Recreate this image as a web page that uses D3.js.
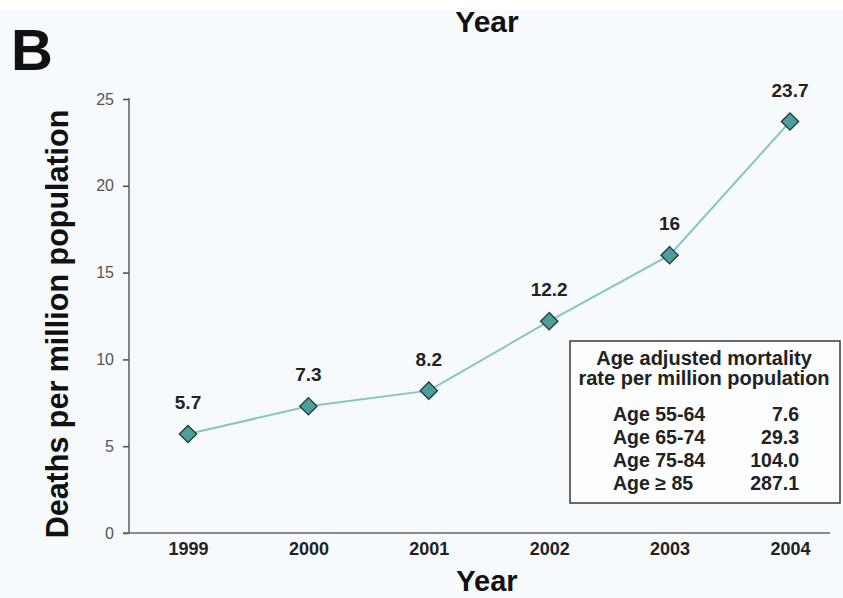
<!DOCTYPE html>
<html>
<head>
<script src="https://d3js.org/d3.v7.min.js"></script>
<style>
  body { margin: 0; background: #fff; }
  svg { display: block; font-family: "Liberation Sans", Arial, sans-serif; }
</style>
</head>
<body>
<script>
var years = ["1999", "2000", "2001", "2002", "2003", "2004"];
var deaths = [5.7, 7.3, 8.2, 12.2, 16, 23.7];
var yTicks = [0, 5, 10, 15, 20, 25];
var legendTitle = ["Age adjusted mortality", "rate per million population"];
var ageGroups = ["Age 55-64", "Age 65-74", "Age 75-84", "Age \u2265 85"];
var ageRates = ["7.6", "29.3", "104.0", "287.1"];

var width = 843, height = 598;
var svg = d3.select("body").append("svg")
    .attr("width", width)
    .attr("height", height);

// page background (light tint below a white strip)
svg.append("rect").attr("x", 0).attr("y", 11).attr("width", width).attr("height", height - 11)
    .attr("fill", "#f6fafc");

// cropped title from the panel above
svg.append("text").attr("x", 487).attr("y", 32).attr("text-anchor", "middle")
    .attr("font-size", 30).attr("font-weight", "bold").attr("fill", "#111").text("Year");
svg.append("rect").attr("x", 0).attr("y", 0).attr("width", width).attr("height", 11).attr("fill", "#fff");

// panel letter
svg.append("text").attr("x", 11).attr("y", 70)
    .attr("font-size", 58).attr("font-weight", "bold").attr("fill", "#111").text("B");

var x = d3.scalePoint().domain(years).range([188, 790]);
var y = d3.scaleLinear().domain([0, 25]).range([533, 99]);

// y axis
var yAxis = svg.append("g").attr("transform", "translate(129,0)")
    .call(d3.axisLeft(y).tickValues(yTicks).tickSize(6).tickPadding(9));
yAxis.select(".domain").attr("stroke", "#666").attr("stroke-width", 1.6).attr("d", "M0,98V533");
yAxis.selectAll(".tick line").attr("stroke", "#555").attr("stroke-width", 1.6);
yAxis.selectAll(".tick text").attr("font-size", 16).attr("fill", "#555")
    .attr("font-family", "Liberation Sans, Arial, sans-serif");

// x axis
var xAxis = svg.append("g").attr("transform", "translate(0,533)")
    .call(d3.axisBottom(x).tickSize(0).tickPadding(9));
xAxis.select(".domain").attr("stroke", "#666").attr("stroke-width", 1.6).attr("d", "M123,0H830");
xAxis.selectAll(".tick text").attr("font-size", 18).attr("font-weight", "bold").attr("fill", "#222")
    .attr("font-family", "Liberation Sans, Arial, sans-serif");

// axis titles
svg.append("text").attr("x", 487).attr("y", 591).attr("text-anchor", "middle")
    .attr("font-size", 29).attr("font-weight", "bold").attr("fill", "#111").text("Year");
svg.append("text").attr("transform", "translate(68,324) rotate(-90)").attr("text-anchor", "middle")
    .attr("font-size", 30.5).attr("font-weight", "bold").attr("fill", "#111").text("Deaths per million population");

// line
var line = d3.line()
    .x(function(d, i) { return x(years[i]); })
    .y(function(d) { return y(d); });
svg.append("path").attr("d", line(deaths))
    .attr("fill", "none").attr("stroke", "#86c6c2").attr("stroke-width", 2);

// diamond markers
svg.selectAll("path.pt").data(deaths).enter().append("path")
    .attr("class", "pt")
    .attr("d", d3.symbol().type(d3.symbolDiamond2).size(190))
    .attr("transform", function(d, i) { return "translate(" + x(years[i]) + "," + y(d) + ")"; })
    .attr("fill", "#4c9e9c").attr("stroke", "#1f3838").attr("stroke-width", 1.3);

// value labels
svg.selectAll("text.val").data(deaths).enter().append("text")
    .attr("class", "val")
    .attr("x", function(d, i) { return x(years[i]); })
    .attr("y", function(d) { return y(d) - 25; })
    .attr("text-anchor", "middle").attr("font-size", 19).attr("font-weight", "bold").attr("fill", "#222")
    .text(function(d) { return d; });

// legend box
var lg = svg.append("g");
lg.append("rect").attr("x", 570).attr("y", 341).attr("width", 270).attr("height", 162)
    .attr("fill", "#fbfdfe").attr("stroke", "#444").attr("stroke-width", 1.6);
lg.selectAll("text.lt").data(legendTitle).enter().append("text")
    .attr("class", "lt")
    .attr("x", 704).attr("y", function(d, i) { return 365 + i * 20; })
    .attr("text-anchor", "middle").attr("font-size", 20).attr("font-weight", "bold").attr("fill", "#222")
    .text(function(d) { return d; });
lg.selectAll("text.ag").data(ageGroups).enter().append("text")
    .attr("class", "ag")
    .attr("x", 613).attr("y", function(d, i) { return 421 + i * 23; })
    .attr("font-size", 19.5).attr("font-weight", "bold").attr("fill", "#222")
    .text(function(d) { return d; });
lg.selectAll("text.ar").data(ageRates).enter().append("text")
    .attr("class", "ar")
    .attr("x", 799).attr("y", function(d, i) { return 421 + i * 23; })
    .attr("text-anchor", "end").attr("font-size", 19.5).attr("font-weight", "bold").attr("fill", "#222")
    .text(function(d) { return d; });
</script>
</body>
</html>
